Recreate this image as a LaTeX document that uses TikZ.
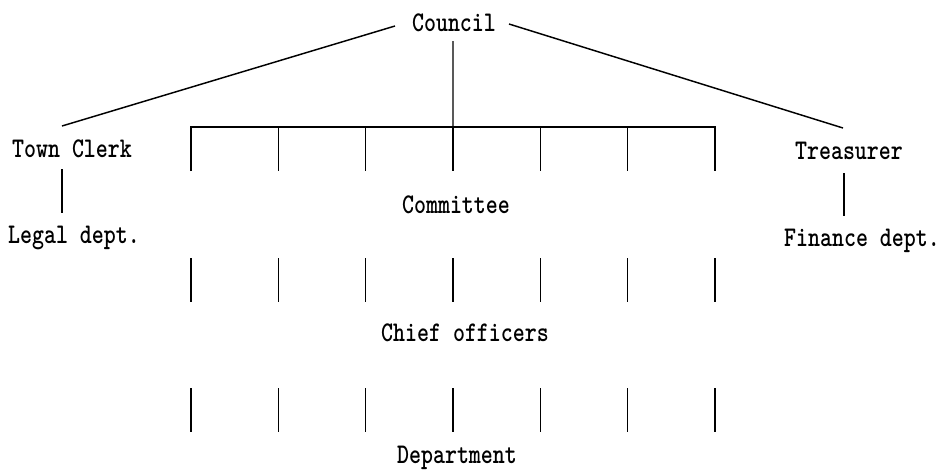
\documentclass[tikz,border=0pt]{standalone}
\usepackage{graphicx}
\newcommand{\tallt}[1]{\scalebox{1}[1.25]{#1}}
\begin{document}
\begin{tikzpicture}[x=0.75pt,y=-0.75pt, line width=1pt,
  lbl/.style={inner sep=0pt, anchor=base, font=\fontsize{17.1}{20}\selectfont\ttfamily\bfseries},
  conn/.style={draw=black, line width=1.1pt}]
\useasboundingbox[fill=white] (0,0) rectangle (940,469);
% labels
\node[lbl] (council) at (454,31) {\tallt{Council}};
\node[lbl] (clerk) at (72,157) {\tallt{Town Clerk}};
\node[lbl] (legal) at (74,243) {\tallt{Legal dept.}};
\node[lbl] (treas) at (849,159) {\tallt{Treasurer}};
\node[lbl] (fin) at (862,246) {\tallt{Finance dept.}};
\node[lbl] (comm) at (456,213) {\tallt{Committee}};
\node[lbl] (chief) at (465,341) {\tallt{Chief officers}};
\node[lbl] (dept) at (457,463) {\tallt{Department}};
% connector end points
\coordinate (cl) at (395,26);
\coordinate (cr) at (509,24);
\coordinate (cb) at (453,41);
\coordinate (clerkTop) at (62,126);
\coordinate (treasTop) at (843,128);
\coordinate (clerkV1) at (62,169);
\coordinate (clerkV2) at (62,213);
\coordinate (treasV1) at (844,173);
\coordinate (treasV2) at (844,216);
\draw[conn] (cl) -- (clerkTop);
\draw[conn] (cr) -- (treasTop);
\draw[conn] (clerkV1) -- (clerkV2);
\draw[conn] (treasV1) -- (treasV2);
\foreach \i in {0,...,6} {
  \pgfmathsetmacro\xx{191+87.33*\i}
  \coordinate (bt\i) at (\xx,127);
  \coordinate (bb\i) at (\xx,171);
  \coordinate (ct\i) at (\xx,258);
  \coordinate (cbot\i) at (\xx,302);
  \coordinate (dt\i) at (\xx,388);
  \coordinate (db\i) at (\xx,432);
}
\draw[conn, line join=miter] (bb0) -- (bt0) -- (bt6) -- (bb6);
\draw[conn] (cb) -- (bt3);
\foreach \i in {1,...,5} {
  \draw[conn] (bt\i) -- (bb\i);
}
\foreach \i in {0,...,6} {
  \draw[conn] (ct\i) -- (cbot\i);
  \draw[conn] (dt\i) -- (db\i);
}
\end{tikzpicture}
\end{document}
